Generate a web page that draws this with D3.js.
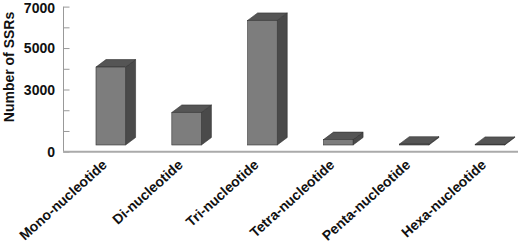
<!DOCTYPE html>
<html><head><meta charset="utf-8">
<script src="https://cdn.jsdelivr.net/npm/d3@7"></script>
<style>body{margin:0;background:#fff}svg{display:block}text{font-family:"Liberation Sans",Arial,sans-serif;font-weight:bold;fill:#111}</style>
</head><body>
<svg id="c" width="526" height="245"></svg>
<script>
const categories = ["Mono-nucleotide","Di-nucleotide","Tri-nucleotide","Tetra-nucleotide","Penta-nucleotide","Hexa-nucleotide"];
const values = [3760, 1570, 6010, 260, 40, 30];
const tickValues = [0,1000,2000,3000,4000,5000,6000,7000];
const tickLabels = {0:"0",3000:"3000",5000:"5000",7000:"7000"};

const svg = d3.select("#c");
const x = d3.scaleBand().domain(categories).range([63,518]).padding(0);
const y = d3.scaleLinear().domain([0,7000]).range([151.7,6.6]);
const bw = x.bandwidth();
const dx = 10, dy = 7.5, fz = 6.7;
const fw = bw*0.39, fo = bw*0.435;

// y axis
const ya = svg.append("g").attr("transform","translate(63.5,0)")
  .call(d3.axisRight(y).tickValues(tickValues).tickSize(6).tickFormat(""));
ya.select(".domain").attr("stroke","#999").attr("d", `M0,${y(7000)}V${y(0)}`);
ya.selectAll(".tick line").attr("stroke","#999");
svg.append("g").selectAll("text").data(tickValues.filter(d=>tickLabels[d]!==undefined)).join("text")
  .attr("x",55).attr("y",d=>Math.max(y(d),7.5)).attr("dy","0.36em").attr("text-anchor","end")
  .attr("font-size",14).text(d=>tickLabels[d]);

// x axis line
svg.append("line").attr("x1",63).attr("x2",518).attr("y1",y(0)).attr("y2",y(0))
  .attr("stroke","#aaa").attr("stroke-width",2);

// bars
const g = svg.append("g");
categories.forEach((c,i)=>{
  const v = values[i];
  const x0 = x(c)+fo, x1 = x0+fw;
  const yb = y(0)-fz, yt = y(v)-fz;
  g.append("path").attr("d",`M${x1},${yb}L${x1+dx},${yb-dy}L${x1+dx},${yt-dy}L${x1},${yt}Z`)
    .attr("fill","#4a4a4a").attr("stroke","#333").attr("stroke-width",0.6);
  g.append("path").attr("d",`M${x0},${yt}L${x0+dx},${yt-dy}L${x1+dx},${yt-dy}L${x1},${yt}Z`)
    .attr("fill","#555").attr("stroke","#333").attr("stroke-width",0.6);
  g.append("rect").attr("x",x0).attr("y",yt).attr("width",fw).attr("height",Math.max(0,yb-yt))
    .attr("fill","#7d7d7d").attr("stroke","#333").attr("stroke-width",0.6);
});

// x labels
svg.append("g").selectAll("text").data(categories).join("text")
  .attr("text-anchor","end").attr("font-size",14)
  .attr("transform",d=>`translate(${x(d)+bw/2+7},${166}) rotate(-42)`)
  .text(d=>d);

// y title
svg.append("text").attr("transform","translate(14,67) rotate(-90)")
  .attr("text-anchor","middle").attr("font-size",14).text("Number of SSRs");
</script>
</body></html>
